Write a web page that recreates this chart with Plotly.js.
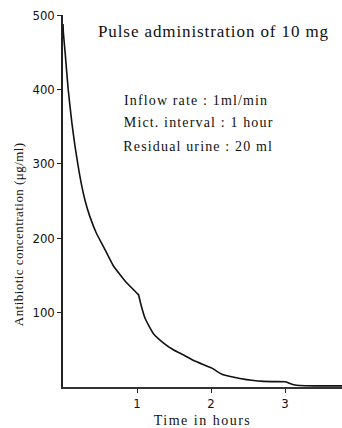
<!DOCTYPE html>
<html>
<head>
<meta charset="utf-8">
<script src="https://cdn.plot.ly/plotly-3.0.1.min.js"></script>
<style>
html,body{margin:0;padding:0;background:#fff;}
#chart{width:342px;height:428px;}
.gtitle{letter-spacing:0.9px;}
.xtitle{letter-spacing:1.5px;}
.annotation .annotation-text{letter-spacing:1.15px;}
.annotation[data-index="3"] .annotation-text{letter-spacing:0.45px;}
</style>
</head>
<body>
<div id="chart"></div>
<script>
// Time (hours) and antibiotic concentration (µg/ml)
const timeHours = [0, 0.005, 0.03, 0.07, 0.12, 0.16, 0.2, 0.25, 0.3, 0.36, 0.45, 0.55, 0.68, 0.86, 1.0, 1.02, 1.05, 1.11, 1.22, 1.36, 1.49, 1.63, 1.76, 1.9, 2.0, 2.02, 2.08, 2.15, 2.26, 2.39, 2.55, 2.71, 3.0, 3.02, 3.06, 3.12, 3.2, 3.4, 3.78];
const concentration = [488, 476, 448, 400, 355, 325, 300, 272, 250, 230, 207, 188, 163, 140, 126, 124, 112, 92, 72, 59, 50, 43, 36, 30, 26, 25, 21, 17, 14, 11.5, 9, 7.5, 7, 6.8, 5, 3, 2, 1.5, 1.5];
const yTicks = [100, 200, 300, 400, 500];
const xTicks = [1, 2, 3];
const titleText = 'Pulse administration of 10 mg';
const yTitleText = 'Antibiotic concentration (μg/ml)';
const xTitleText = 'Time in hours';
const noteLines = ['Inflow rate : 1ml/min', 'Mict. interval : 1 hour', 'Residual urine : 20 ml'];

const serif = '"Liberation Serif", "DejaVu Serif", serif';
const narrow = '"Liberation Sans Narrow", "DejaVu Sans Condensed", sans-serif';
const noteSpacing = 1.15;

const trace = {
  x: timeHours, y: concentration, type: 'scatter', mode: 'lines',
  line: {color: '#111', width: 1.6, shape: 'spline', smoothing: 0.4},
  hoverinfo: 'skip', showlegend: false
};

// letter-spacing is not part of the measured box, so compensate half of it
const notes = noteLines.map((t, i) => ({
  xref: 'paper', yref: 'paper',
  x: (122 + noteSpacing * (t.length - 1) / 2 - 63) / 279,
  y: (387 - (100 + 23 * i)) / 372,
  xanchor: 'left', yanchor: 'middle', showarrow: false, text: t,
  font: {family: serif, size: 14, color: '#111'}
}));

const layout = {
  width: 342, height: 428,
  margin: {l: 63, r: 0, t: 15, b: 41},
  paper_bgcolor: '#fff', plot_bgcolor: '#fff',
  showlegend: false,
  title: {text: titleText, xref: 'container', yref: 'container', x: 213.5 / 342, xanchor: 'center', y: 1 - 31 / 428, yanchor: 'middle',
          font: {family: serif, size: 17, color: '#111'}},
  xaxis: {
    range: [0, 3.77], tickvals: xTicks, ticktext: xTicks.map(String),
    ticks: 'outside', ticklen: 4, tickwidth: 1, tickcolor: '#222',
    showline: true, linecolor: '#333', linewidth: 1.6, showgrid: false, zeroline: false,
    tickfont: {family: narrow, size: 13, color: '#111'},
    title: {text: xTitleText, font: {family: serif, size: 14, color: '#111'}, standoff: 5}
  },
  yaxis: {
    range: [0, 500], tickvals: yTicks, ticktext: yTicks.map(String),
    ticks: 'outside', ticklen: 4, tickwidth: 1, tickcolor: '#222',
    showline: true, linecolor: '#222', linewidth: 1.6, showgrid: false, zeroline: false,
    tickfont: {family: narrow, size: 13, color: '#111'}
  },
  annotations: notes.concat([{
    xref: 'paper', yref: 'paper', x: (19 - 63) / 279, y: (387 - 235) / 372,
    xanchor: 'center', yanchor: 'middle', showarrow: false, textangle: -90,
    text: yTitleText, font: {family: serif, size: 13, color: '#111'}
  }])
};

Plotly.newPlot('chart', [trace], layout, {staticPlot: true, displayModeBar: false});
</script>
</body>
</html>
